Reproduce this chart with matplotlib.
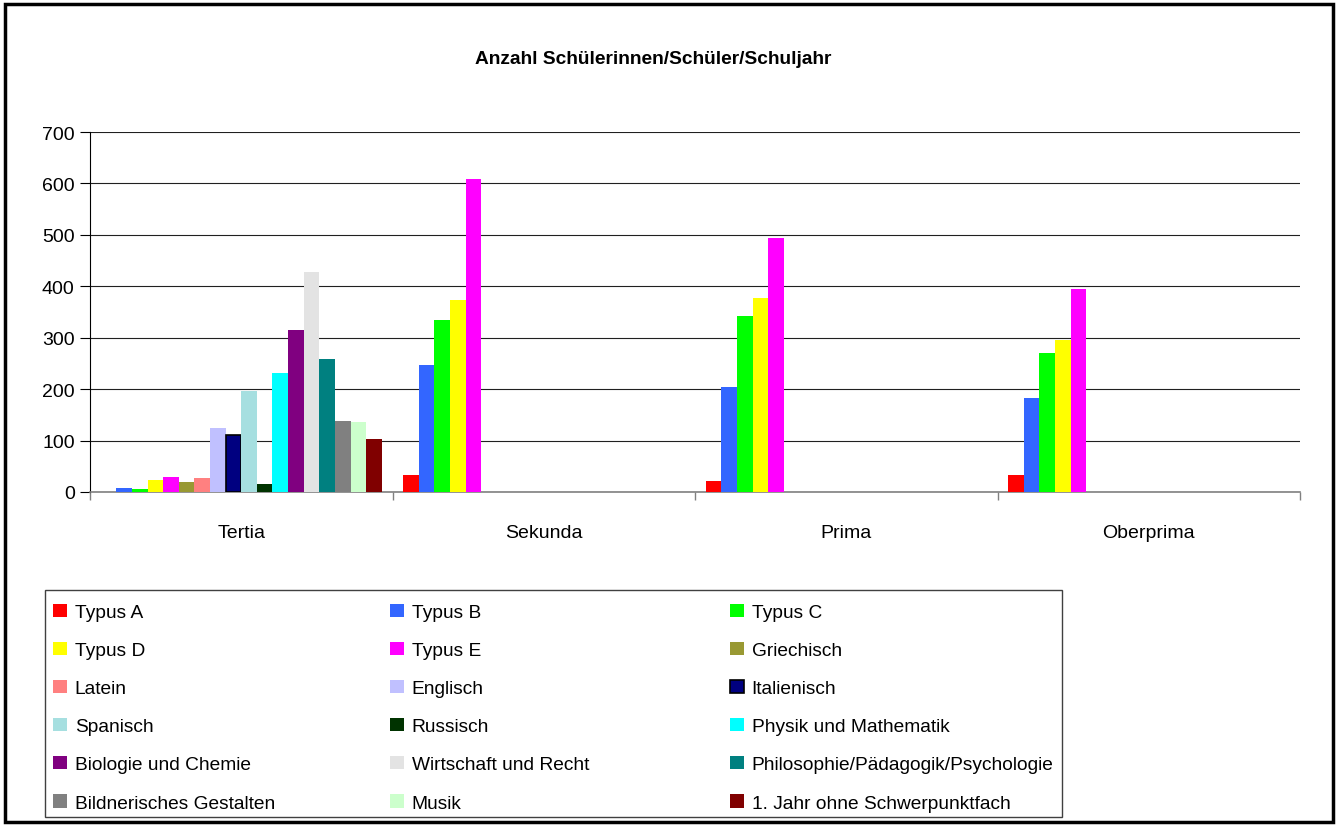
import numpy as np
import matplotlib.pyplot as plt
from matplotlib.patches import Rectangle

plt.rcParams['font.family'] = ['Liberation Sans', 'DejaVu Sans']

# === Daten ===
stufen = ["Tertia", "Sekunda", "Prima", "Oberprima"]
reihen = ["Typus A", "Typus B", "Typus C", "Typus D", "Typus E", "Griechisch",
          "Latein", "Englisch", "Italienisch", "Spanisch", "Russisch",
          "Physik und Mathematik", "Biologie und Chemie", "Wirtschaft und Recht",
          "Philosophie/Pädagogik/Psychologie", "Bildnerisches Gestalten", "Musik",
          "1. Jahr ohne Schwerpunktfach"]
typus_a = [0, 34, 21, 34]
typus_b = [8, 246, 205, 183]
typus_c = [6, 335, 342, 271]
typus_d = [23, 373, 378, 295]
typus_e = [29, 609, 494, 395]
griechisch = [19, 0, 0, 0]
latein = [27, 0, 0, 0]
englisch = [125, 0, 0, 0]
italienisch = [111, 0, 0, 0]
spanisch = [196, 0, 0, 0]
russisch = [15, 0, 0, 0]
physik = [232, 0, 0, 0]
biologie = [315, 0, 0, 0]
wirtschaft = [428, 0, 0, 0]
philosophie = [259, 0, 0, 0]
bildnerisch = [139, 0, 0, 0]
musik = [137, 0, 0, 0]
ohne_fach = [103, 0, 0, 0]
werte = [typus_a, typus_b, typus_c, typus_d, typus_e, griechisch, latein, englisch,
         italienisch, spanisch, russisch, physik, biologie, wirtschaft, philosophie,
         bildnerisch, musik, ohne_fach]
farben = ["#FF0000", "#3366FF", "#00FF00", "#FFFF00", "#FF00FF", "#999933",
          "#FF8080", "#C0C0FF", "#000080", "#A6DFE0", "#003300", "#00FFFF",
          "#800080", "#E3E3E3", "#008080", "#808080", "#CCFFCC", "#800000"]

fig = plt.figure(figsize=(13.38, 8.28), dpi=100)
ax = fig.add_axes([90/1338, 1-493/828, 1210/1338, 360/828])

# === Balken ===
n = len(reihen)
breite = 0.0516
start = (1 - n*breite)/2
x = np.arange(len(stufen))
balken = []
for k in range(n):
    kanten = ["black" if (reihen[k] == "Italienisch" and v > 0) else "none" for v in werte[k]]
    b = ax.bar(x + start + k*breite, werte[k], width=breite, align="edge",
               color=farben[k], edgecolor=kanten, linewidth=1.2, zorder=3)
    if reihen[k] == "Italienisch":
        b.patches[0].set_edgecolor("black")
    balken.append(b)

ax.set_xlim(0, len(stufen))
ax.set_ylim(0, 700)
ax.set_yticks(np.arange(0, 701, 100))
ax.yaxis.grid(True, color="#202020", lw=0.8, zorder=0)
ax.tick_params(axis="y", direction="out", length=7, width=0.8, labelsize=14, pad=4)

ax.set_xticks(np.arange(len(stufen)+1))
ax.set_xticklabels([])
ax.set_xticks(x + 0.5, minor=True)
ax.set_xticklabels(stufen, minor=True)
ax.tick_params(axis="x", which="major", direction="out", length=6, width=1, color="#808080")
ax.tick_params(axis="x", which="minor", length=0, labelsize=14, pad=23)

for s in ["top", "right"]:
    ax.spines[s].set_visible(False)
ax.spines["left"].set_color("black")
ax.spines["bottom"].set_color("#808080")
ax.spines["bottom"].set_linewidth(1.2)

fig.text(653/1338, 1-60/828, "Anzahl Schülerinnen/Schüler/Schuljahr",
         ha="center", va="center", fontsize=13.8, fontweight="bold")

# === Legende: drei Spalten, zeilenweise gefüllt ===
ncol = 3
spalten_x = [43, 380, 720]
for c in range(ncol):
    idx = list(range(c, n, ncol))
    leg = fig.legend([balken[i] for i in idx], [reihen[i] for i in idx],
                     loc="upper left", bbox_to_anchor=(spalten_x[c]/1338, 1-595/828),
                     fontsize=13.8, frameon=False,
                     handlelength=0.75, handleheight=0.7, handletextpad=0.4,
                     labelspacing=1.08, borderaxespad=0, borderpad=0.5)

# Rahmen der Legende
fig.patches.append(Rectangle((45/1338, 1-818/828), 1017/1338, 227/828, transform=fig.transFigure,
                             fill=False, edgecolor="#404040", linewidth=1))

# === Rahmen um die ganze Grafik ===
fig.patches.append(Rectangle((5/1338, 5/828), 1328/1338, 818/828, transform=fig.transFigure,
                             fill=False, edgecolor="black", linewidth=2.5))

fig.savefig("out.png", dpi=100)
